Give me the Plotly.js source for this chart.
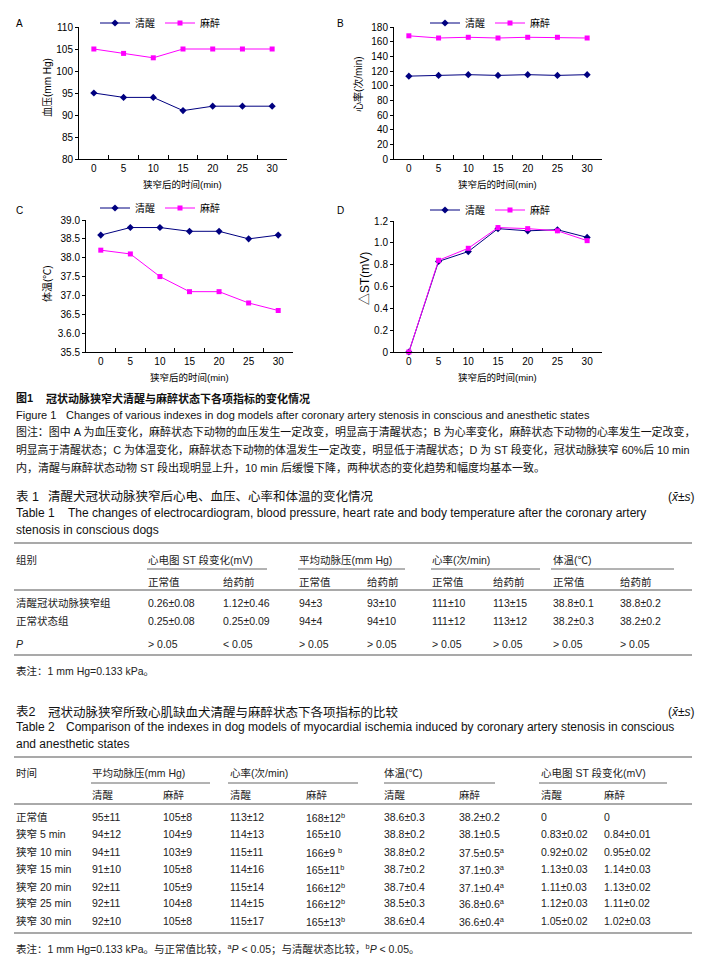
<!DOCTYPE html>
<html><head><meta charset="utf-8">
<script src="https://cdn.plot.ly/plotly-3.0.1.min.js"></script>
<style>html,body{margin:0;padding:0;background:#fff}#chart{width:701px;height:964px}</style>
</head><body><div id="chart"></div>
<script>
// ---------- chart data ----------
const times = ['0','5','10','15','20','25','30'];
const seriesNames = ['清醒','麻醉'];
const bpAwake  = [95, 94, 94, 91, 92, 92, 92];
const bpAnes   = [105, 104, 103, 105, 105, 105, 105];
const hrAwake  = [113, 114, 115, 114, 115, 114, 115];
const hrAnes   = [168, 165, 166, 165, 166, 166, 165];
const tempAwake = [38.6, 38.8, 38.8, 38.7, 38.7, 38.5, 38.6];
const tempAnes  = [38.2, 38.1, 37.5, 37.1, 37.1, 36.8, 36.6];
const stAwake  = [0, 0.83, 0.92, 1.13, 1.11, 1.12, 1.05];
const stAnes   = [0, 0.84, 0.95, 1.14, 1.13, 1.11, 1.02];
const bpTicks = [80, 85, 90, 95, 100, 105, 110];
const hrTicks = [0, 20, 40, 60, 80, 100, 120, 140, 160, 180];
const tempTicks = [35.5, 36.0, 36.5, 37.0, 37.5, 38.0, 38.5, 39.0];
const tempTickText = ['35.5', '3.6.0', '36.5', '37.0', '37.5', '38.0', '38.5', '39.0'];
const stTicks = [0, 0.2, 0.4, 0.6, 0.8, 1.0, 1.2];
const stTickText = ['0', '0.2', '0.4', '0.6', '0.8', '1.0', '1.2'];
const panelLabels = ['A', 'B', 'C', 'D'];
const yTitles = ['血压(mm Hg)', '心率(次/min)', '体温(℃)', '△ST(mV)'];
const xTitle = '狭窄后的时间(min)';

// ---------- caption text ----------
const fig1Label = '图1';
const fig1Title = '冠状动脉狭窄犬清醒与麻醉状态下各项指标的变化情况';
const fig1EnLabel = 'Figure 1';
const fig1EnTitle = 'Changes of various indexes in dog models after coronary artery stenosis in conscious and anesthetic states';
const fig1Notes = [
  '图注：图中 A 为血压变化，麻醉状态下动物的血压发生一定改变，明显高于清醒状态；B 为心率变化，麻醉状态下动物的心率发生一定改变，',
  '明显高于清醒状态；C 为体温变化，麻醉状态下动物的体温发生一定改变，明显低于清醒状态；D 为 ST 段变化，冠状动脉狭窄 60%后 10 min',
  '内，清醒与麻醉状态动物 ST 段出现明显上升，10 min 后缓慢下降，两种状态的变化趋势和幅度均基本一致。'
];
const statMark = '(<i>x̄</i>±<i>s</i>)';

// ---------- table 1 ----------
const t1Label = '表 1';
const t1Title = '清醒犬冠状动脉狭窄后心电、血压、心率和体温的变化情况';
const t1EnLabel = 'Table 1';
const t1EnTitle = ['The changes of electrocardiogram, blood pressure, heart rate and body temperature after the coronary artery', 'stenosis in conscious dogs'];
const t1Corner = '组别';
const t1Groups = ['心电图 ST 段变化(mV)', '平均动脉压(mm Hg)', '心率(次/min)', '体温(℃)'];
const t1Sub = ['正常值', '给药前'];
const t1RowNames = ['清醒冠状动脉狭窄组', '正常状态组', '<i>P</i>'];
const t1Row1 = ['0.26±0.08', '1.12±0.46', '94±3', '93±10', '111±10', '113±15', '38.8±0.1', '38.8±0.2'];
const t1Row2 = ['0.25±0.08', '0.25±0.09', '94±4', '94±10', '111±12', '113±12', '38.2±0.3', '38.2±0.2'];
const t1RowP = ['> 0.05', '< 0.05', '> 0.05', '> 0.05', '> 0.05', '> 0.05', '> 0.05', '> 0.05'];
const t1Note = '表注：1 mm Hg=0.133 kPa。';

// ---------- table 2 ----------
const t2Label = '表2';
const t2Title = '冠状动脉狭窄所致心肌缺血犬清醒与麻醉状态下各项指标的比较';
const t2EnLabel = 'Table 2';
const t2EnTitle = ['Comparison of the indexes in dog models of myocardial ischemia induced by coronary artery stenosis in conscious', 'and anesthetic states'];
const t2Corner = '时间';
const t2Groups = ['平均动脉压(mm Hg)', '心率(次/min)', '体温(℃)', '心电图 ST 段变化(mV)'];
const t2Sub = ['清醒', '麻醉'];
const t2RowNames = ['正常值', '狭窄 5 min', '狭窄 10 min', '狭窄 15 min', '狭窄 20 min', '狭窄 25 min', '狭窄 30 min'];
const t2Normal = ['95±11', '105±8', '113±12', '168±12<sup>b</sup>', '38.6±0.3', '38.2±0.2', '0', '0'];
const t2Min5   = ['94±12', '104±9', '114±13', '165±10', '38.8±0.2', '38.1±0.5', '0.83±0.02', '0.84±0.01'];
const t2Min10  = ['94±11', '103±9', '115±11', '166±9 <sup>b</sup>', '38.8±0.2', '37.5±0.5<sup>a</sup>', '0.92±0.02', '0.95±0.02'];
const t2Min15  = ['91±10', '105±8', '114±16', '165±11<sup>b</sup>', '38.7±0.2', '37.1±0.3<sup>a</sup>', '1.13±0.03', '1.14±0.03'];
const t2Min20  = ['92±11', '105±9', '115±14', '166±12<sup>b</sup>', '38.7±0.4', '37.1±0.4<sup>a</sup>', '1.11±0.03', '1.13±0.02'];
const t2Min25  = ['92±11', '104±8', '114±15', '166±12<sup>b</sup>', '38.5±0.3', '36.8±0.6<sup>a</sup>', '1.12±0.03', '1.11±0.02'];
const t2Min30  = ['92±10', '105±8', '115±17', '165±13<sup>b</sup>', '38.6±0.4', '36.6±0.4<sup>a</sup>', '1.05±0.02', '1.02±0.03'];
const t2Note = '表注：1 mm Hg=0.133 kPa。与正常值比较，<sup>a</sup><i>P</i> &lt; 0.05；与清醒状态比较，<sup>b</sup><i>P</i> &lt; 0.05。';

// ---------- layout helpers ----------
const W = 701, H = 964;
const px = v => v / W;
const py = v => 1 - v / H;
const FONT = 'Liberation Sans, Arial, Noto Sans CJK SC, sans-serif';
const NAVY = '#000080', MAG = '#FF00FF';

const annotations = [];
const shapes = [];
function txt(x, y, text, size, opts) {
  opts = opts || {};
  annotations.push({
    xref: 'paper', yref: 'paper', x: px(x), y: py(y), text: text, showarrow: false,
    xanchor: opts.anchor || 'left', yanchor: 'middle', textangle: opts.angle || 0,
    font: {family: FONT, size: size, color: opts.color || '#111'}
  });
}
function hline(x0, x1, y, color, width) {
  shapes.push({type: 'line', xref: 'paper', yref: 'paper', x0: px(x0), x1: px(x1), y0: py(y), y1: py(y),
    line: {color: color || '#444', width: width || 1}});
}

// panels: [left, right, top, bottom] in px
const panels = [
  {box: [79, 287, 27, 159], range: [80, 110], tv: bpTicks, tt: null, a: bpAwake, b: bpAnes, lg: [95, 23], lab: [19, 23], yt: [47, 88, 10], xt: 184},
  {box: [394, 602, 27, 159], range: [0, 180], tv: hrTicks, tt: null, a: hrAwake, b: hrAnes, lg: [425, 23], lab: [340, 23], yt: [358, 84, 10], xt: 184},
  {box: [86, 293, 220, 352], range: [35.5, 39], tv: tempTicks, tt: tempTickText, a: tempAwake, b: tempAnes, lg: [95, 208], lab: [19, 210], yt: [47, 284, 10], xt: 378},
  {box: [394, 602, 221, 352], range: [0, 1.2], tv: stTicks, tt: stTickText, a: stAwake, b: stAnes, lg: [425, 210], lab: [340, 210], yt: [365, 279, 12], xt: 378}
];

const traces = [];
const layout = {
  width: W, height: H, autosize: false,
  margin: {l: 0, r: 0, t: 0, b: 0, pad: 0},
  paper_bgcolor: '#fff', plot_bgcolor: 'rgba(0,0,0,0)',
  font: {family: FONT, size: 10, color: '#000'},
  showlegend: true
};

panels.forEach((p, i) => {
  const n = i === 0 ? '' : String(i + 1);
  const xName = 'x' + n, yName = 'y' + n;
  const lgName = 'legend' + n;
  layout['xaxis' + n] = {
    domain: [px(p.box[0]), px(p.box[1])], anchor: yName,
    type: 'category', categoryorder: 'array', categoryarray: times, range: [-0.5, 6.5],
    tickson: 'boundaries', ticks: 'inside', ticklen: 4, tickcolor: '#000', tickwidth: 1,
    showline: true, linecolor: '#000', linewidth: 1, showgrid: false, zeroline: false,
    tickfont: {family: FONT, size: 10, color: '#000'}, fixedrange: true
  };
  const ya = {
    domain: [py(p.box[3]), py(p.box[2])], anchor: xName, range: p.range,
    tickmode: 'array', tickvals: p.tv,
    ticks: 'outside', ticklen: 3, tickcolor: '#000', tickwidth: 1,
    showline: true, linecolor: '#000', linewidth: 1, showgrid: false, zeroline: false,
    tickfont: {family: FONT, size: 10, color: '#000'}, fixedrange: true
  };
  if (p.tt) ya.ticktext = p.tt;
  layout['yaxis' + n] = ya;
  layout[lgName] = {
    x: px(p.lg[0]), y: py(p.lg[1]), xanchor: 'left', yanchor: 'middle', orientation: 'h',
    font: {family: FONT, size: 10, color: '#000'}, bgcolor: 'rgba(0,0,0,0)', borderwidth: 0,
    itemwidth: 30, traceorder: 'normal'
  };
  traces.push({
    type: 'scatter', mode: 'lines+markers', x: times, y: p.a, xaxis: xName, yaxis: yName,
    name: seriesNames[0], legend: lgName, cliponaxis: false,
    line: {color: NAVY, width: 1}, marker: {symbol: 'diamond', size: 5.5, color: NAVY}
  });
  traces.push({
    type: 'scatter', mode: 'lines+markers', x: times, y: p.b, xaxis: xName, yaxis: yName,
    name: seriesNames[1], legend: lgName, cliponaxis: false,
    line: {color: MAG, width: 1}, marker: {symbol: 'square', size: 5, color: MAG}
  });
  txt(p.lab[0], p.lab[1], panelLabels[i], 10, {anchor: 'center', color: '#000'});
  txt(p.yt[0], p.yt[1], yTitles[i], p.yt[2], {anchor: 'center', angle: -90, color: '#000'});
  txt((p.box[0] + p.box[1]) / 2, p.xt, xTitle, 9.5, {anchor: 'center', color: '#000'});
});

// ---------- figure caption ----------
txt(14, 398, '<b>' + fig1Label + '</b>', 11);
txt(44, 398, '<b>' + fig1Title + '</b>', 11);
txt(14, 415, fig1EnLabel, 11);
txt(64, 415, fig1EnTitle, 11);
txt(14, 432, fig1Notes[0], 10.95);
txt(14, 449, fig1Notes[1], 10.8);
txt(14, 467, fig1Notes[2], 11);

// ---------- table 1 ----------
const TB = 10.5, TC = '#222';
txt(14, 497, t1Label, 12.5);
txt(46, 497, t1Title, 12.5);
txt(697, 497, statMark, 12, {anchor: 'right'});
txt(14, 513, t1EnLabel, 12);
txt(66, 513, t1EnTitle[0], 12);
txt(14, 530, t1EnTitle[1], 12);
hline(14, 692, 543, '#555', 1.2);
const t1ColX = [147, 222, 298, 366, 431, 492, 552, 619];
const t1GroupLine = [[147, 267], [298, 405], [431, 540], [551, 674]];
txt(14, 560, t1Corner, TB, {color: TC});
t1Groups.forEach((g, k) => {
  txt(t1ColX[2 * k] - 1, 560, g, TB, {color: TC});
  hline(t1GroupLine[k][0], t1GroupLine[k][1], 569, '#666', 1);
  txt(t1ColX[2 * k] - 1, 582, t1Sub[0], TB, {color: TC});
  txt(t1ColX[2 * k + 1] - 1, 582, t1Sub[1], TB, {color: TC});
});
hline(14, 692, 590, '#555', 1);
const t1Rows = [t1Row1, t1Row2, t1RowP];
const t1RowY = [603, 621, 644];
t1Rows.forEach((row, r) => {
  txt(14, t1RowY[r], t1RowNames[r], TB, {color: TC});
  row.forEach((v, c) => txt(t1ColX[c] - 1, t1RowY[r], v, TB, {color: TC}));
});
hline(14, 692, 655, '#555', 1.2);
txt(14, 671, t1Note, TB, {color: TC});

// ---------- table 2 ----------
txt(14, 712, t2Label, 12.5);
txt(46, 712, t2Title, 12.5);
txt(697, 712, statMark, 12, {anchor: 'right'});
txt(14, 727, t2EnLabel, 12);
txt(64, 727, t2EnTitle[0], 12);
txt(14, 744, t2EnTitle[1], 12);
hline(14, 692, 757, '#555', 1.2);
const t2ColX = [91, 162, 229, 305, 383, 458, 540, 603];
const t2GroupLine = [[91, 210], [228, 358], [384, 495], [539, 667]];
txt(14, 773, t2Corner, TB, {color: TC});
t2Groups.forEach((g, k) => {
  txt(t2ColX[2 * k] - 1, 773, g, TB, {color: TC});
  hline(t2GroupLine[k][0], t2GroupLine[k][1], 783, '#666', 1);
  txt(t2ColX[2 * k] - 1, 795, t2Sub[0], TB, {color: TC});
  txt(t2ColX[2 * k + 1] - 1, 795, t2Sub[1], TB, {color: TC});
});
hline(14, 692, 804, '#555', 1);
const t2Rows = [t2Normal, t2Min5, t2Min10, t2Min15, t2Min20, t2Min25, t2Min30];
const t2RowY = [817, 834, 852, 869, 887, 903, 921];
t2Rows.forEach((row, r) => {
  txt(14, t2RowY[r], t2RowNames[r], TB, {color: TC});
  row.forEach((v, c) => txt(t2ColX[c] - 1, t2RowY[r], v, TB, {color: TC}));
});
hline(14, 692, 933, '#555', 1.2);
txt(14, 948, t2Note, TB, {color: TC});

layout.annotations = annotations;
layout.shapes = shapes;

Plotly.newPlot('chart', traces, layout, {staticPlot: true, displayModeBar: false});
</script>
</body></html>
